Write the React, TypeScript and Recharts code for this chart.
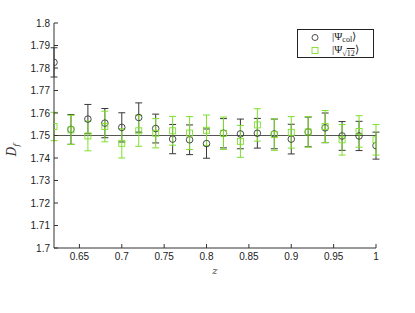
import { ScatterChart, Scatter, XAxis, YAxis, ErrorBar, ReferenceLine, Legend } from "recharts"

const zValues = [0.62, 0.64, 0.66, 0.68, 0.7, 0.72, 0.74, 0.76, 0.78, 0.8, 0.82, 0.84, 0.86, 0.88, 0.9, 0.92, 0.94, 0.96, 0.98, 1.0]
const colVals = [1.7825, 1.7527, 1.7573, 1.7555, 1.7536, 1.758, 1.7531, 1.7484, 1.7481, 1.7464, 1.751, 1.7507, 1.751, 1.7507, 1.7484, 1.7516, 1.7534, 1.7498, 1.7498, 1.7455]
const colErr = [0.0065, 0.0066, 0.0065, 0.0065, 0.0065, 0.0065, 0.0064, 0.0065, 0.0066, 0.0065, 0.0065, 0.0066, 0.0066, 0.0066, 0.0066, 0.0066, 0.0066, 0.0064, 0.0065, 0.006]
const sqrtVals = [1.754, 1.7525, 1.7498, 1.754, 1.7465, 1.7521, 1.751, 1.7521, 1.7511, 1.7523, 1.751, 1.7474, 1.7547, 1.7504, 1.7514, 1.7516, 1.754, 1.7481, 1.7518, 1.7481]
const sqrtErr = [0.0063, 0.0065, 0.0066, 0.0068, 0.0065, 0.0069, 0.0065, 0.0064, 0.0073, 0.0068, 0.0072, 0.0071, 0.0072, 0.007, 0.007, 0.0068, 0.0071, 0.0068, 0.007, 0.0068]
const xTicks = [0.65, 0.7, 0.75, 0.8, 0.85, 0.9, 0.95, 1]
const yTicks = [1.7, 1.71, 1.72, 1.73, 1.74, 1.75, 1.76, 1.77, 1.78, 1.79, 1.8]

const colData = zValues.map((z, i) => ({ z, v: colVals[i], e: colErr[i] }))
const sqrtData = zValues.map((z, i) => ({ z, v: sqrtVals[i], e: sqrtErr[i] }))

const GREEN = "#7ee02c"
const DARK = "#383838"
const font = "'Liberation Sans', Arial, sans-serif"
const tickStyle = { fontSize: 10, fill: "#222", fontFamily: font }

const circleShape = (p: any) => <circle cx={p.cx} cy={p.cy} r={3.3} fill="none" stroke={DARK} strokeWidth={0.9} />
const squareShape = (p: any) => <rect x={p.cx - 3} y={p.cy - 3} width={6} height={6} fill="none" stroke={GREEN} strokeWidth={0.9} />
const noLabel = () => <g />

function LegendBox() {
  return (
    <div style={{ width: 75, height: 27, border: "1px solid #222", background: "#fff", fontFamily: "'Liberation Serif', serif", fontSize: 11, color: "#222", position: "relative" }}>
      <svg width={12} height={30} style={{ position: "absolute", left: 11, top: 0 }}>
        <circle cx={6} cy={7.5} r={3} fill="none" stroke={DARK} strokeWidth={0.9} />
        <rect x={3} y={17.5} width={6} height={6} fill="none" stroke={GREEN} strokeWidth={0.9} />
      </svg>
      <div style={{ position: "absolute", left: 34, top: -1, whiteSpace: "nowrap", lineHeight: "14px" }}>
        |Ψ<span style={{ fontSize: 8, position: "relative", top: 2 }}>col</span>⟩
      </div>
      <div style={{ position: "absolute", left: 34, top: 12, whiteSpace: "nowrap", lineHeight: "14px" }}>
        |Ψ<span style={{ fontSize: 8, position: "relative", top: 3 }}>√<span style={{ textDecoration: "overline" }}>12</span></span>⟩
      </div>
    </div>
  )
}

export default function App() {
  return (
    <div style={{ position: "absolute", left: 0, top: 0, width: 415, height: 313, background: "#fff" }}>
      <ScatterChart width={415} height={313} margin={{ top: 23, right: 39, bottom: 0, left: 0 }}>
        <XAxis
          xAxisId="bottom"
          dataKey="z"
          type="number"
          domain={[0.62, 1]}
          ticks={xTicks}
          allowDataOverflow
          height={36}
          stroke="#333"
          tickSize={-4}
          tickMargin={9}
          tick={tickStyle}
          label={{ value: "z", position: "insideBottom", offset: 10, style: { fontFamily: "'DejaVu Serif', serif", fontStyle: "italic", fontSize: 10, fill: "#444" } }}
        />
        <XAxis xAxisId="top" orientation="top" dataKey="z" type="number" domain={[0.62, 1]} ticks={xTicks} height={0} stroke="#333" tickSize={-4} tick={noLabel} />
        <YAxis
          yAxisId="left"
          dataKey="v"
          type="number"
          domain={[1.7, 1.8]}
          ticks={yTicks}
          allowDataOverflow
          width={54}
          stroke="#333"
          tickSize={-4}
          tickMargin={8}
          tick={tickStyle}
          label={{
            value: "D_f",
            content: () => (
              <text x={16} y={150} transform="rotate(-90 16 150)" textAnchor="middle" fontFamily="'DejaVu Serif', serif" fontStyle="italic" fontSize={12} fill="#333">
                D<tspan fontSize={8} dy={3}>f</tspan>
              </text>
            ),
          }}
        />
        <YAxis yAxisId="right" orientation="right" dataKey="v" type="number" domain={[1.7, 1.8]} ticks={yTicks} width={0} stroke="#333" tickSize={-4} tick={noLabel} />
        <ReferenceLine xAxisId="bottom" yAxisId="left" y={1.75} stroke="#555" strokeWidth={1} />
        <Legend content={() => <LegendBox />} wrapperStyle={{ top: 29, left: 297, width: 77 }} />
        <Scatter name="col" data={colData} xAxisId="bottom" yAxisId="left" shape={circleShape} isAnimationActive={false}>
          <ErrorBar dataKey="e" direction="y" width={3.5} stroke={DARK} strokeWidth={1} isAnimationActive={false} />
        </Scatter>
        <Scatter name="sqrt12" data={sqrtData} xAxisId="bottom" yAxisId="left" shape={squareShape} isAnimationActive={false}>
          <ErrorBar dataKey="e" direction="y" width={3.5} stroke={GREEN} strokeWidth={1} isAnimationActive={false} />
        </Scatter>
      </ScatterChart>
    </div>
  )
}
